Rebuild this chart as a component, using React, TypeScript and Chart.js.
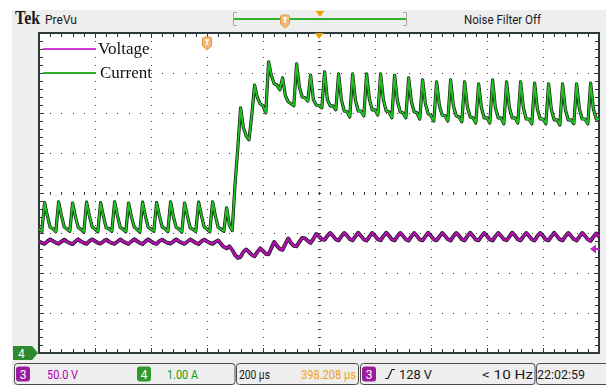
import React, { useEffect, useRef } from "react";
import { Chart, registerables } from "chart.js";

Chart.register(...registerables);

// Acquisition: 200 us/div, 10 divisions, trigger at 3 div from the left edge
const SAMPLE_START_US = -600;
const SAMPLE_STEP_US = 10;
const X_MIN_US = -600;
const X_MAX_US = 1400;
const X_DIV_US = 200;

// Channel 4: current probe, 1.00 A/div
const CURRENT_MIN_A = -0.04;
const CURRENT_MAX_A = 7.96;
// Channel 3: voltage, 50.0 V/div
const VOLTAGE_MIN_V = -2;
const VOLTAGE_MAX_V = 398;
const TRIGGER_LEVEL_V = 128;

// Inductor current samples (A), one every 10 us
const currentA = [
  3.06, 3.0, 3.72, 3.38, 3.1,
  3.07, 2.99, 3.74, 3.4, 3.11,
  3.06, 3.0, 3.71, 3.37, 3.1,
  3.05, 2.98, 3.73, 3.39, 3.11,
  3.06, 2.99, 3.72, 3.38, 3.09,
  3.07, 3.0, 3.74, 3.4, 3.1,
  3.06, 2.99, 3.71, 3.37, 3.11,
  3.05, 2.98, 3.73, 3.38, 3.1,
  3.06, 3.0, 3.72, 3.39, 3.11,
  3.07, 2.99, 3.74, 3.37, 3.1,
  3.06, 2.98, 3.71, 3.38, 3.09,
  3.05, 3.0, 3.73, 3.4, 3.11,
  3.06, 2.99, 3.74, 3.38, 3.1,
  3.06, 3.0, 3.59, 3.16, 3.02,
  4.16, 5.09, 6.09, 5.59, 5.39,
  5.29, 5.91, 6.66, 6.34, 6.19,
  6.14, 5.96, 7.24, 6.89, 6.69,
  6.66, 6.54, 6.84, 6.39, 6.24,
  6.19, 6.14, 7.19, 6.61, 6.36,
  6.34, 6.26, 6.91, 6.29, 6.16,
  6.14, 6.09, 6.99, 6.29, 6.14,
  6.14, 6.04, 6.94, 6.29, 6.01,
  5.99, 5.86, 6.94, 6.29, 6.01,
  6.01, 5.89, 6.94, 6.31, 6.04,
  6.04, 5.91, 6.94, 6.29, 6.01,
  5.99, 5.84, 6.91, 6.26, 5.99,
  5.96, 5.84, 6.84, 6.24, 5.99,
  5.96, 5.81, 6.79, 6.19, 5.94,
  5.89, 5.76, 6.74, 6.14, 5.91,
  5.89, 5.76, 6.79, 6.14, 5.89,
  5.86, 5.74, 6.74, 6.11, 5.86,
  5.84, 5.71, 6.69, 6.09, 5.84,
  5.84, 5.71, 6.79, 6.09, 5.84,
  5.84, 5.69, 6.74, 6.09, 5.84,
  5.84, 5.71, 6.74, 6.09, 5.81,
  5.81, 5.69, 6.71, 6.06, 5.81,
  5.81, 5.69, 6.69, 6.04, 5.79,
  5.79, 5.66, 6.69, 6.04, 5.79,
  5.79, 5.69, 6.69, 6.06, 5.81,
  5.81, 5.69, 6.71, 6.06, 5.81,
  5.81,
];

// Output voltage samples (V), one every 10 us
const voltageV = [
  137.5, 135.6, 134.4, 137.5, 140.0,
  137.8, 135.9, 134.6, 137.2, 139.7,
  137.2, 135.3, 134.1, 137.5, 140.3,
  137.5, 135.6, 134.4, 137.8, 140.0,
  137.8, 135.6, 134.7, 137.5, 139.7,
  137.2, 135.3, 134.4, 137.2, 140.0,
  137.5, 135.9, 134.4, 137.5, 140.3,
  137.8, 135.6, 134.1, 137.5, 140.0,
  137.5, 135.3, 134.4, 137.8, 139.7,
  137.2, 135.6, 134.7, 137.5, 140.0,
  137.5, 135.9, 134.4, 137.2, 140.0,
  137.8, 135.6, 134.1, 137.5, 139.7,
  137.5, 135.6, 134.4, 136.9, 138.8,
  134.4, 130.6, 128.8, 131.3, 126.9,
  120.6, 116.9, 118.1, 124.4, 127.5,
  124.4, 120.6, 118.8, 124.4, 128.8,
  125.6, 121.9, 121.3, 129.4, 136.9,
  131.9, 128.1, 126.9, 134.4, 141.3,
  135.6, 131.9, 131.3, 136.9, 141.9,
  141.3, 138.1, 135.6, 140.6, 146.9,
  143.8, 140.0, 139.4, 144.4, 148.1,
  144.4, 140.0, 138.8, 143.8, 148.1,
  144.7, 140.3, 138.8, 143.8, 148.4,
  144.4, 140.0, 138.5, 143.5, 148.1,
  144.4, 140.3, 138.8, 144.1, 148.4,
  144.7, 140.0, 138.8, 143.8, 148.1,
  144.4, 140.0, 138.5, 143.8, 148.1,
  144.1, 139.7, 138.8, 143.8, 148.4,
  144.4, 140.0, 138.8, 143.5, 148.1,
  144.4, 140.3, 138.5, 143.8, 148.1,
  144.7, 140.0, 138.8, 144.1, 148.4,
  144.4, 139.7, 138.8, 143.8, 148.1,
  144.1, 140.0, 138.5, 143.8, 148.1,
  144.4, 140.3, 138.8, 143.5, 148.4,
  144.7, 140.0, 138.8, 143.8, 148.1,
  144.4, 140.0, 138.5, 144.1, 148.1,
  144.4, 139.7, 138.8, 143.8, 148.4,
  144.1, 140.0, 138.8, 143.8, 148.1,
  144.4, 140.3, 138.5, 143.5, 148.1,
  144.4, 140.0, 138.1, 143.1, 147.5,
  143.8,
];

const sampleTimesUs = currentA.map((_, i) => SAMPLE_START_US + i * SAMPLE_STEP_US);

const COLORS = {
  frame: "#eeeeee",
  border: "#2c3a3a",
  dot: "#3a3a3a",
  trace: "#151515",
  current: "#1ec41e",
  voltage: "#b010b0",
  legendV: "#d23cd2",
  legendI: "#2fae2f",
  orange: "#f0a000",
  pinFill: "#f5b878",
  pinEdge: "#e3963c",
};

const Y_DIVS = 8;
const MINOR = 5;

// Scope graticule: white screen, dotted division lines, centre cross and ruled border
const graticule = {
  id: "graticule",
  beforeDatasetsDraw(chart: any) {
    const { ctx, chartArea: a, scales } = chart;
    const xs = scales.x;
    const divX: number[] = [];
    for (let t = X_MIN_US; t <= X_MAX_US + 1e-6; t += X_DIV_US) divX.push(Math.round(xs.getPixelForValue(t)));
    const dy = (a.bottom - a.top) / Y_DIVS;
    const divY: number[] = [];
    for (let k = 0; k <= Y_DIVS; k++) divY.push(Math.round(a.top + k * dy));
    const nX = divX.length - 1;
    const minorX = (divX[nX] - divX[0]) / (nX * MINOR);
    const minorY = dy / MINOR;
    const cxIdx = nX / 2;
    const cyIdx = Y_DIVS / 2;

    ctx.save();
    ctx.fillStyle = "#ffffff";
    ctx.fillRect(a.left, a.top, a.right - a.left, a.bottom - a.top);

    ctx.fillStyle = COLORS.dot;
    for (let i = 1; i < nX; i++) {
      if (i === cxIdx) continue;
      for (let j = 1; j < Y_DIVS * MINOR; j++) ctx.fillRect(divX[i], Math.round(a.top + j * minorY), 1, 1);
    }
    for (let k = 1; k < Y_DIVS; k++) {
      if (k === cyIdx) continue;
      for (let j = 1; j < nX * MINOR; j++) ctx.fillRect(Math.round(a.left + j * minorX), divY[k], 1, 1);
    }
    // centre cross with minor tick marks
    const cx = divX[cxIdx];
    const cy = divY[cyIdx];
    for (let j = 1; j < Y_DIVS * MINOR; j++) ctx.fillRect(cx - 1, Math.round(a.top + j * minorY), 3, 1);
    for (let j = 1; j < nX * MINOR; j++) ctx.fillRect(Math.round(a.left + j * minorX), cy - 1, 1, 3);

    // border ruler
    ctx.fillStyle = COLORS.border;
    const L = divX[0], R = divX[nX], T = divY[0], B = divY[Y_DIVS];
    ctx.fillRect(L - 1, T - 1, R - L + 2, 2);
    ctx.fillRect(L - 1, B - 1, R - L + 2, 2);
    ctx.fillRect(L - 1, T - 1, 2, B - T + 2);
    ctx.fillRect(R - 1, T - 1, 2, B - T + 2);
    for (let j = 1; j < nX * MINOR; j++) {
      const px = Math.round(a.left + j * minorX);
      const len = j % MINOR === 0 ? 5 : 4;
      ctx.fillRect(px, T, 1, len);
      ctx.fillRect(px, B - len, 1, len);
    }
    for (let j = 1; j < Y_DIVS * MINOR; j++) {
      const py = Math.round(a.top + j * minorY);
      const len = j % MINOR === 0 ? 5 : 4;
      ctx.fillRect(L, py, len, 1);
      ctx.fillRect(R - len, py, len, 1);
    }
    ctx.restore();
  },
  afterDatasetsDraw(chart: any) {
    const { ctx, chartArea: a, scales } = chart;
    ctx.save();
    // trigger level arrow (channel 3) on the right edge
    const ty = scales.yV.getPixelForValue(TRIGGER_LEVEL_V);
    ctx.fillStyle = "#c020c0";
    ctx.beginPath();
    ctx.moveTo(a.right - 9, ty);
    ctx.lineTo(a.right - 3, ty - 4.5);
    ctx.lineTo(a.right - 3, ty + 4.5);
    ctx.closePath();
    ctx.fill();
    ctx.fillRect(a.right - 4, ty - 1, 4, 2);

    // horizontal expansion point on the top ruler
    const cx = scales.x.getPixelForValue((X_MIN_US + X_MAX_US) / 2);
    ctx.fillStyle = COLORS.orange;
    ctx.beginPath();
    ctx.moveTo(cx - 4.5, a.top);
    ctx.lineTo(cx + 4.5, a.top);
    ctx.lineTo(cx, a.top + 6);
    ctx.closePath();
    ctx.fill();

    // trigger position marker
    const tx = scales.x.getPixelForValue(0);
    const top = a.top + 4;
    ctx.fillStyle = COLORS.pinFill;
    ctx.strokeStyle = COLORS.pinEdge;
    ctx.lineWidth = 1;
    ctx.beginPath();
    ctx.moveTo(tx - 4.5, top + 2);
    ctx.quadraticCurveTo(tx - 4.5, top, tx - 2.5, top);
    ctx.lineTo(tx + 2.5, top);
    ctx.quadraticCurveTo(tx + 4.5, top, tx + 4.5, top + 2);
    ctx.lineTo(tx + 4.5, top + 9);
    ctx.lineTo(tx, top + 13);
    ctx.lineTo(tx - 4.5, top + 9);
    ctx.closePath();
    ctx.fill();
    ctx.stroke();
    ctx.strokeStyle = "#ffffff";
    ctx.lineWidth = 1.5;
    ctx.beginPath();
    ctx.moveTo(tx - 2, top + 3);
    ctx.lineTo(tx + 2, top + 3);
    ctx.moveTo(tx, top + 3);
    ctx.lineTo(tx, top + 8);
    ctx.stroke();
    ctx.restore();
  },
};

function Pin({ cx, top }: { cx: number; top: number }) {
  const d = `M${cx - 4.5} ${top + 2} Q${cx - 4.5} ${top} ${cx - 2.5} ${top} H${cx + 2.5} Q${cx + 4.5} ${top} ${cx + 4.5} ${top + 2} V${top + 9} L${cx} ${top + 13} L${cx - 4.5} ${top + 9} Z`;
  return (
    <g>
      <path d={d} fill={COLORS.pinFill} stroke={COLORS.pinEdge} />
      <path d={`M${cx - 2} ${top + 3} H${cx + 2} M${cx} ${top + 3} V${top + 8}`} stroke="#fff" strokeWidth={1.5} fill="none" />
    </g>
  );
}

function Badge({ x, label, color }: { x: number; label: string; color: string }) {
  return (
    <g>
      <rect x={x} y={366.5} width={14} height={15} rx={3} fill={color} />
      <text x={x + 7} y={378.5} textAnchor="middle" fill="#fff" fontFamily="Roboto, sans-serif" fontSize={12}>
        {label}
      </text>
    </g>
  );
}

const NARROW = "Roboto, 'Liberation Sans', sans-serif";

function Label({ x, text, width, color, size = 13.5, anchor = "start" }: any) {
  return (
    <text x={x} y={379} fill={color} fontFamily={NARROW} fontSize={size} textLength={width} lengthAdjust="spacingAndGlyphs" textAnchor={anchor}>
      {text}
    </text>
  );
}

function Frame() {
  return (
    <svg width={606} height={385} style={{ position: "absolute", left: 0, top: 0 }}>
      <rect x={12} y={10} width={594} height={375} fill={COLORS.frame} />
      {/* status bar */}
      <text x={15} y={24} fill="#1a1a1a" fontFamily="'Liberation Serif', serif" fontWeight="bold" fontSize={18} textLength={25} lengthAdjust="spacingAndGlyphs">
        Tek
      </text>
      <text x={45} y={24} fill="#1a1a1a" fontFamily={NARROW} fontSize={13} textLength={32} lengthAdjust="spacingAndGlyphs">
        PreVu
      </text>
      <path d="M237 12.5 H233.5 V25.5 H237" fill="none" stroke="#a8a8a8" />
      <path d="M403 12.5 H406.5 V25.5 H403" fill="none" stroke="#a8a8a8" />
      <line x1={234} y1={19} x2={406} y2={19} stroke="#2fb02f" strokeWidth={2} />
      <Pin cx={285} top={15} />
      <path d="M315.5 11 H324.5 L320 17 Z" fill={COLORS.orange} />
      <text x={464} y={24} fill="#1a1a1a" fontFamily={NARROW} fontSize={13.5} textLength={77} lengthAdjust="spacingAndGlyphs">
        Noise Filter Off
      </text>

      {/* channel 4 ground marker */}
      <path d="M13 346 H32 L38 353 L32 360 H13 Z" fill="#2e8a2e" />
      <text x={18} y={358} fill="#fff" fontFamily={NARROW} fontSize={12}>
        4
      </text>

      {/* readout bar */}
      <rect x={14.5} y={363.5} width={220.5} height={21} rx={3} fill="none" stroke="#4a4a4a" />
      <rect x={236.5} y={363.5} width={122} height={21} rx={3} fill="none" stroke="#4a4a4a" />
      <rect x={360.5} y={363.5} width={174.5} height={21} rx={3} fill="none" stroke="#4a4a4a" />
      <rect x={536.5} y={363.5} width={80} height={21} rx={3} fill="none" stroke="#4a4a4a" />
      <Badge x={16} label="3" color="#9c1a9c" />
      <Label x={47} text="50.0 V" width={31} color="#b000b0" />
      <Badge x={137} label="4" color="#2e9a2e" />
      <Label x={167} text="1.00 A" width={31} color="#159a15" />
      <Label x={239} text="200 µs" width={31} color="#1a1a1a" />
      <Label x={301} text="398.208 µs" width={55} color="#f0a020" />
      <Badge x={362} label="3" color="#9c1a9c" />
      <path d="M385 378.5 H388 L392 369.5 H395" fill="none" stroke="#1a1a1a" strokeWidth={1.2} />
      <Label x={399} text="128 V" width={33} color="#1a1a1a" />
      <Label x={482} text="< 10 Hz" width={51} color="#1a1a1a" />
      <Label x={537} text="22:02:59" width={48} color="#1a1a1a" />
    </svg>
  );
}

function Legend() {
  const row = { display: "flex", alignItems: "center", height: 18 } as const;
  return (
    <div
      style={{
        position: "absolute",
        left: 43,
        top: 40,
        fontFamily: "'Liberation Serif', serif",
        fontSize: 17,
        lineHeight: "18px",
        color: "#111",
      }}
    >
      <div style={row}>
        <span style={{ display: "inline-block", width: 53, height: 2, background: COLORS.legendV }} />
        <span style={{ marginLeft: 2 }}>Voltage</span>
      </div>
      <div style={{ ...row, marginTop: 6 }}>
        <span style={{ display: "inline-block", width: 53, height: 2, background: COLORS.legendI }} />
        <span style={{ marginLeft: 4 }}>Current</span>
      </div>
    </div>
  );
}

export default function App() {
  const canvasRef = useRef<HTMLCanvasElement>(null);

  useEffect(() => {
    const currentPts = currentA.map((v, i) => ({ x: sampleTimesUs[i], y: v }));
    const voltagePts = voltageV.map((v, i) => ({ x: sampleTimesUs[i], y: v }));
    const line = { pointRadius: 0, tension: 0, borderJoinStyle: "round" as const, borderCapStyle: "round" as const, fill: false };
    const chart = new Chart(canvasRef.current!, {
      type: "line",
      data: {
        datasets: [
          { ...line, label: "Current trace", data: currentPts, yAxisID: "yI", borderColor: COLORS.trace, borderWidth: 3.2, order: 4 },
          { ...line, label: "Current", data: currentPts, yAxisID: "yI", borderColor: COLORS.current, borderWidth: 1.9, order: 3 },
          { ...line, label: "Voltage trace", data: voltagePts, yAxisID: "yV", borderColor: COLORS.trace, borderWidth: 3.8, order: 2 },
          { ...line, label: "Voltage", data: voltagePts, yAxisID: "yV", borderColor: COLORS.voltage, borderWidth: 2.4, order: 1 },
        ],
      },
      options: {
        animation: false,
        responsive: false,
        devicePixelRatio: 1,
        layout: { padding: { left: 39, right: 7, top: 33, bottom: 32 } },
        scales: {
          x: { type: "linear", min: X_MIN_US, max: X_MAX_US, display: false },
          yI: { type: "linear", min: CURRENT_MIN_A, max: CURRENT_MAX_A, display: false },
          yV: { type: "linear", min: VOLTAGE_MIN_V, max: VOLTAGE_MAX_V, display: false },
        },
        plugins: { legend: { display: false }, tooltip: { enabled: false } },
        events: [],
      },
      plugins: [graticule],
    });
    return () => chart.destroy();
  }, []);

  return (
    <div style={{ position: "absolute", left: 0, top: 0, width: 606, height: 385, background: "#fff", overflow: "hidden" }}>
      <Frame />
      <canvas ref={canvasRef} width={606} height={385} style={{ position: "absolute", left: 0, top: 0, width: 606, height: 385 }} />
      <Legend />
    </div>
  );
}
